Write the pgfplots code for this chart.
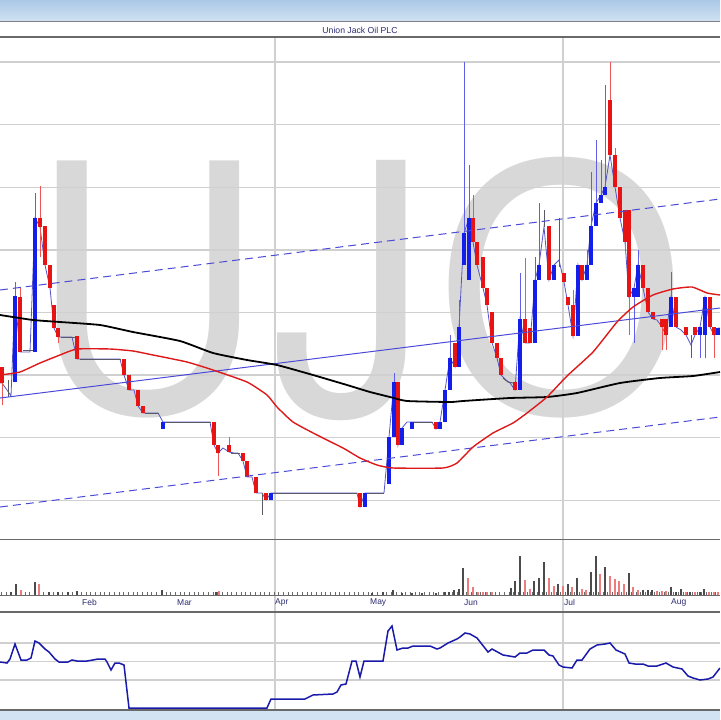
\documentclass[border=0pt]{standalone}
\usepackage{pgfplots}
\pgfplotsset{compat=1.18}
\usepackage{pgfplotstable}
\usepackage{graphicx}
\usepackage{fontspec}
\setmainfont{Liberation Sans}
\newfontfamily\heros{TeX Gyre Heros}
\definecolor{candleblue}{RGB}{20,30,235}
\definecolor{candlered}{RGB}{232,20,20}
\definecolor{wickblue}{RGB}{95,95,235}
\definecolor{wickred}{RGB}{240,85,85}
\definecolor{gridgray}{RGB}{208,208,208}
\definecolor{wmgray}{RGB}{216,216,216}
\definecolor{bandtop}{RGB}{170,200,230}
\definecolor{bandbot}{RGB}{210,227,243}
\definecolor{navy}{RGB}{45,45,115}
\definecolor{trendblue}{RGB}{75,75,215}
\definecolor{indblue}{RGB}{25,25,170}
\definecolor{volgray}{RGB}{75,75,75}
\definecolor{volred}{RGB}{235,125,125}
\definecolor{closeline}{RGB}{85,85,200}
\definecolor{flatgray}{RGB}{90,90,100}
\definecolor{panelline}{RGB}{105,105,105}
\definecolor{maRed}{RGB}{222,25,25}

\pgfplotsset{candle/.style={only marks, mark size=0pt, mark options={draw=none, fill=none},
  error bars/.cd, y dir=both, y explicit, error mark=none}}

% up (blue) candles: body top/bottom, wick top/bottom (chart pixel rows)
\pgfplotstableread{
x bt bb wt wb
15 296 382 282 382
35 218 352 193 352
163 422 429 422 429
271 493 500 493 500
365 493 507 493 507
389 437 484 437 484
394 382 437 373 437
402 428 445 428 445
412 422 429 422 429
440 422 429 422 429
445 390 422 390 422
450 358 390 335 390
459 327 367 300 367
464 233 265 62 265
469 218 280 165 280
520 319 390 273 390
535 280 343 257 343
539 265 280 203 280
554 265 280 265 280
578 265 336 265 336
587 265 280 250 280
591 226 265 172 265
596 203 226 140 226
601 195 203 160 203
605 187 195 85 195
634 288 297 288 343
638 265 297 250 297
671 297 327 272 327
700 327 335 327 358
705 297 335 297 358
718 328 335 328 335
}\upcandles

% down (red) candles
\pgfplotstableread{
x bt bb wt wb
2 367 383 367 405
20 297 352 288 352
40 218 227 186 257
45 226 265 226 265
50 265 288 265 288
54 305 328 305 328
58 328 337 328 343
77 336 359 336 359
124 359 375 359 375
129 375 390 375 390
138 390 406 390 406
143 406 413 406 413
214 422 445 422 445
218 445 453 445 476
229 445 452 437 452
243 453 461 453 461
247 461 477 461 477
256 477 493 477 493
266 493 500 493 500
360 493 507 493 507
398 382 445 382 445
436 422 429 422 429
455 343 367 343 367
473 218 242 195 242
477 242 265 242 265
483 257 288 257 288
487 288 305 288 305
492 312 343 312 343
497 343 358 343 358
501 358 375 358 375
515 382 390 382 390
525 319 343 258 343
530 328 343 328 343
549 226 280 226 280
564 273 282 273 282
568 297 305 297 305
573 305 336 290 336
582 265 280 265 280
610 100 155 62 155
615 155 187 148 187
620 187 218 187 218
625 210 242 210 250
629 210 297 210 335
643 265 288 265 288
648 288 312 288 312
653 312 319 312 319
662 319 327 319 350
666 319 335 319 350
676 297 327 297 327
686 327 335 327 335
695 327 335 327 335
710 297 327 297 327
714 327 335 327 358
}\downcandles

% neutral wicks
\pgfplotstableread{
x wt wb
8 380 397
262 493 515
544 210 227
559 218 267
691 335 358
}\neutral

% volume bars: x, top row
\pgfplotstableread{
x t
11 592
16 584
35 582
49 592
58 592
68 592
77 591
162 590
216 592
372 593
383 592
393 590
402 593
412 593
422 593
436 593
445 592
449 592
454 590
459 589
463 568
511 588
515 581
520 556
534 581
539 578
544 562
558 584
568 584
577 578
591 572
596 556
605 567
629 573
643 590
648 590
652 590
671 587
676 592
681 589
690 592
700 592
704 589
}\volup

\pgfplotstableread{
x t
21 590
39 584
219 591
468 578
473 587
478 592
483 592
487 592
492 592
525 580
530 589
549 578
554 586
563 586
572 587
582 589
586 590
600 574
610 576
615 579
619 581
624 584
633 587
638 590
657 591
662 591
666 591
686 592
695 592
709 592
714 592
718 592
}\voldown

\begin{document}
\begin{tikzpicture}
\begin{axis}[
  width=720bp, height=720bp, scale only axis,
  xmin=0, xmax=720, ymin=0, ymax=720, y dir=reverse,
  hide axis, clip=true,
]
% backgrounds
\fill[white] (0,0) rectangle (720,720);
\shade[top color=bandtop, bottom color=bandbot] (0,0) rectangle (720,22);
\fill[bandbot] (0,711) rectangle (720,720);
\draw[gray, line width=1bp] (0,22) -- (720,22);

% watermark
\node[anchor=base west, inner sep=0pt, text=wmgray] at (32.3,414) {\scalebox{0.871}[1]{\fontsize{370}{370}\selectfont U}};
\node[anchor=base west, inner sep=0pt, text=wmgray] at (271.6,414) {\scalebox{0.905}[1]{\heros\fontsize{350}{350}\selectfont J}};
\node[anchor=base west, inner sep=0pt, text=wmgray] at (433.4,414) {\scalebox{0.893}[1]{\fontsize{370}{370}\selectfont O}};

% grid
\pgfplotsinvokeforeach{62,124.6,187.2,249.8,312.4,375,437.6,500.2}{
  \draw[gridgray, line width=1.4bp] (0,#1) -- (720,#1);
}
\pgfplotsinvokeforeach{643,661.5,680}{
  \draw[gridgray, line width=1.4bp] (0,#1) -- (720,#1);
}
\draw[gridgray, line width=1.5bp] (275,38) -- (275,710);
\draw[gridgray, line width=1.5bp] (563,38) -- (563,710);

% panel frames
\draw[panelline, line width=2bp] (0,37) -- (720,37);
\draw[panelline, line width=1bp] (0,539) -- (720,539);
\draw[panelline, line width=2bp] (0,612) -- (720,612);
\draw[panelline, line width=2bp] (0,710) -- (720,710);
\draw[panelline, line width=0.8bp] (0,595) -- (720,595);
\draw[panelline, line width=2.5bp, dash pattern=on 0.8bp off 3.9bp] (1,593.5) -- (720,593.5);

% title and month labels
\node[text=navy, font=\fontsize{8.7}{10}\selectfont] at (360,30) {Union Jack Oil PLC};
\node[anchor=west, inner sep=0pt, text=navy, font=\fontsize{8.5}{10}\selectfont] at (82,602.5) {Feb};
\node[anchor=west, inner sep=0pt, text=navy, font=\fontsize{8.5}{10}\selectfont] at (177,602.5) {Mar};
\node[anchor=west, inner sep=0pt, text=navy, font=\fontsize{8.5}{10}\selectfont] at (275,602.5) {Apr};
\node[anchor=west, inner sep=0pt, text=navy, font=\fontsize{8.5}{10}\selectfont] at (370,602.5) {May};
\node[anchor=west, inner sep=0pt, text=navy, font=\fontsize{8.5}{10}\selectfont] at (464,602.5) {Jun};
\node[anchor=west, inner sep=0pt, text=navy, font=\fontsize{8.5}{10}\selectfont] at (564,602.5) {Jul};
\node[anchor=west, inner sep=0pt, text=navy, font=\fontsize{8.5}{10}\selectfont] at (671,602.5) {Aug};

% thin close line
\addplot[closeline, line width=0.8bp] coordinates {
(0,383) (2,383) (7,390) (11,396) (15,296) (20,352) (25,352) (30,352) (35,218) (40,227) (45,265) (50,288) (54,328) (58,337) (63,337) (68,337) (72,337) (77,359) (120,359) (124,375) (129,390) (134,390) (138,406) (143,413) (158,413) (163,422) (210,422) (214,445) (218,453) (223,448) (229,452) (234,453) (238,453) (243,461) (247,477) (252,477) (256,493) (262,493) (266,500) (271,493) (357,493) (360,507) (365,493) (384,493) (389,437) (394,382) (398,445) (402,428) (407,422) (432,422) (436,429) (440,422) (445,390) (450,358) (455,367) (459,327) (464,233) (469,218) (473,242) (477,265) (483,288) (487,305) (492,343) (497,358) (501,375) (506,380) (510,383) (515,390) (520,319) (525,343) (530,343) (535,280) (539,265) (544,227) (549,280) (554,265) (559,260) (564,282) (568,305) (573,336) (578,265) (582,280) (587,265) (591,226) (596,203) (601,195) (605,187) (610,155) (615,187) (620,218) (625,242) (629,297) (634,288) (638,265) (643,288) (648,312) (653,319) (657,320) (662,327) (666,335) (671,297) (676,327) (681,330) (686,335) (691,345) (695,335) (700,327) (705,297) (710,327) (714,335) (718,328) (720,328)
};
% flat (no trade) stretches
\addplot[flatgray, line width=1bp] coordinates {(23,350) (33,350)};
\addplot[flatgray, line width=1bp] coordinates {(61,337) (75,337)};
\addplot[flatgray, line width=1bp] coordinates {(80,359) (121,359)};
\addplot[flatgray, line width=1bp] coordinates {(145,413) (159,413)};
\addplot[flatgray, line width=1bp] coordinates {(165,422) (211,422)};
\addplot[flatgray, line width=1bp] coordinates {(231,453) (240,453)};
\addplot[flatgray, line width=1bp] coordinates {(273,493) (357,493)};
\addplot[flatgray, line width=1bp] coordinates {(367,493) (384,493)};
\addplot[flatgray, line width=1bp] coordinates {(414,422) (433,422)};
\addplot[flatgray, line width=1bp] coordinates {(503,378) (508,382) (513,383)};

% wicks
\addplot[candle, error bar style={line width=1bp, draw=wickblue}]
  table[x=x, y expr={(\thisrow{wt}+\thisrow{wb})/2}, y error expr={(\thisrow{wb}-\thisrow{wt})/2}] {\upcandles};
\addplot[candle, error bar style={line width=1bp, draw=wickred}]
  table[x=x, y expr={(\thisrow{wt}+\thisrow{wb})/2}, y error expr={(\thisrow{wb}-\thisrow{wt})/2}] {\downcandles};
\addplot[candle, error bar style={line width=1bp, draw=flatgray}]
  table[x=x, y expr={(\thisrow{wt}+\thisrow{wb})/2}, y error expr={(\thisrow{wb}-\thisrow{wt})/2}] {\neutral};
% bodies
\addplot[candle, error bar style={line width=3.8bp, draw=candleblue}]
  table[x=x, y expr={(\thisrow{bt}+\thisrow{bb})/2}, y error expr={(\thisrow{bb}-\thisrow{bt})/2}] {\upcandles};
\addplot[candle, error bar style={line width=3.8bp, draw=candlered}]
  table[x=x, y expr={(\thisrow{bt}+\thisrow{bb})/2}, y error expr={(\thisrow{bb}-\thisrow{bt})/2}] {\downcandles};

% regression channel
\addplot[trendblue, line width=1bp, dash pattern=on 8bp off 5bp] coordinates {(0,290) (720,199)};
\addplot[trendblue, line width=1bp] coordinates {(0,398) (720,308)};
\addplot[trendblue, line width=1bp, dash pattern=on 8bp off 5bp] coordinates {(0,507) (720,417)};

% long moving average (black)
\addplot[black, line width=1.8bp, smooth, tension=0.3] coordinates {
(0,315) (33,320) (60,322) (100,325) (133,332) (180,341) (213,353) (247,360) (277,365) (313,375) (347,385) (370,392) (390,397) (407,401) (450,402) (463,401) (510,398) (547,397) (577,393) (620,383) (660,378) (693,376) (720,372)
};
% shorter moving average (red)
\addplot[maRed, line width=1.4bp, smooth, tension=0.3] coordinates {
(0,375) (20,372) (40,363) (60,355) (77,349) (110,349) (133,351) (153,355) (187,362) (213,370) (247,382) (267,395) (277,407) (293,422) (317,435) (343,448) (360,458) (377,465) (393,468) (443,468) (457,463) (473,447) (493,433) (513,423) (527,413) (547,397) (567,376) (593,352) (617,322) (633,307) (653,295) (673,289) (692,287) (707,293) (720,295)
};

% volume
\addplot[candle, error bar style={line width=1.3bp, draw=volgray}]
  table[x=x, y expr={(\thisrow{t}+595)/2}, y error expr={(595-\thisrow{t})/2}] {\volup};
\addplot[candle, error bar style={line width=1.3bp, draw=volred}]
  table[x=x, y expr={(\thisrow{t}+595)/2}, y error expr={(595-\thisrow{t})/2}] {\voldown};

% indicator
\addplot[indblue, line width=1.5bp] coordinates {
(0,662) (7,663) (10,659) (15,644) (21,660) (27,660) (31,658) (35,641) (39,643) (45,649) (49,652) (55,659) (59,662) (68,662) (72,660) (77,661) (87,661) (93,660) (98,659) (105,659) (107,662) (111,670) (115,663) (119,663) (124,665) (129,708) (267,708) (271,699) (305,699) (313,695) (333,694) (337,692) (341,685) (346,684) (352,661) (356,661) (360,677) (364,661) (383,661) (388,631) (392,626) (397,650) (403,648) (408,648) (413,646) (430,646) (437,649) (440,648) (448,643) (457,639) (460,637) (465,633) (470,634) (477,638) (488,652) (492,649) (503,655) (515,657) (520,653) (527,653) (533,650) (544,650) (549,655) (553,656) (559,665) (563,667) (572,668) (577,660) (582,660) (590,649) (597,645) (605,644) (610,643) (616,650) (625,654) (629,663) (635,664) (643,664) (648,666) (657,666) (666,663) (673,667) (682,669) (688,676) (693,678) (700,680) (708,679) (713,677) (720,668)
};
\end{axis}
\end{tikzpicture}
\end{document}
